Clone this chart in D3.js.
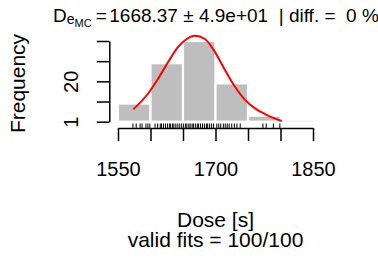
<!DOCTYPE html>
<html lang="en">
<head>
  <meta charset="UTF-8">
  <title>MC dose histogram</title>
  <style>
    body { margin: 0; background: #fff; }
    svg { display: block; font-family: "Liberation Sans", Arial, Helvetica, sans-serif; }
    .title { white-space: pre; }
  </style>
</head>
<body>
  <div class="warp"></div>
  <script src="https://cdn.jsdelivr.net/npm/d3@7"></script>
  <script>
    // histogram bins (lower edges) and counts
    var binStarts = [1550, 1600, 1650, 1700, 1750, 1800];
    var binWidth = 50;
    var counts = [9, 29, 40, 19, 3, 0];

    // rug of the MC doses (estimated positions)
    var rugDoses = [1573, 1578, 1584, 1587, 1593, 1596, 1599,
      1607, 1611, 1615, 1617, 1620, 1623, 1626, 1629, 1631, 1634, 1636, 1639, 1642, 1645, 1648,
      1651, 1654, 1656, 1659, 1661, 1664, 1666, 1669, 1672, 1674, 1677, 1680, 1683, 1686, 1688, 1691, 1694, 1697,
      1702, 1705, 1708, 1712, 1715, 1718, 1721, 1725, 1729, 1733, 1738,
      1773, 1778, 1789, 1799];

    // red fitted curve
    var curveDose = [1573.5, 1596.6, 1612, 1627.4, 1642.8, 1655.7, 1668.5, 1683.8, 1699.2, 1714.6, 1730, 1745.4, 1760.8, 1776.2, 1801.8];
    var curveFreq = [6.1, 14.1, 21.5, 29.7, 37.2, 41.0, 42.6, 41.0, 34.5, 25.6, 17.3, 10.8, 6.6, 3.8, 0.35];

    var xTicks = [1550, 1600, 1650, 1700, 1750, 1800, 1850];
    var xTickLabels = ['1550', '', '', '1700', '', '', '1850'];
    var yTicks = [0, 10, 20, 30, 40];
    var yTickLabels = ['1', '', '20', '', ''];

    var W = 378, H = 261;
    var svg = d3.select('.warp').append('svg').attr('width', W).attr('height', H);

    var x = d3.scaleLinear().domain([1550, 1850]).range([118, 313]);
    var y = d3.scaleLinear().domain([0, 40]).range([121.7, 41]);

    // bars
    svg.selectAll('rect.bar')
      .data(counts)
      .enter()
      .append('rect')
      .attr('class', 'bar')
      .attr('x', function(d, i) { return x(binStarts[i]); })
      .attr('width', function(d, i) { return x(binStarts[i] + binWidth) - x(binStarts[i]); })
      .attr('y', function(d) { return d > 0 ? y(d) : y(0) - 1; })
      .attr('height', function(d) { return d > 0 ? y(0) - y(d) : 1; })
      .attr('fill', '#bebebe')
      .attr('fill-opacity', function(d) { return d > 0 ? 1 : 0.3; })
      .attr('stroke', function(d) { return d > 0 ? '#fff' : 'none'; })
      .attr('stroke-width', 2.2);

    // rug
    var axisY = 128;
    svg.selectAll('line.rug')
      .data(rugDoses)
      .enter()
      .append('line')
      .attr('class', 'rug')
      .attr('x1', function(d) { return x(d); })
      .attr('x2', function(d) { return x(d); })
      .attr('y1', axisY)
      .attr('y2', axisY - 4.5)
      .attr('stroke', '#000')
      .attr('stroke-width', 1);

    // curve
    var line = d3.line()
      .x(function(d, i) { return x(curveDose[i]); })
      .y(function(d) { return y(d); })
      .curve(d3.curveMonotoneX);
    svg.append('path')
      .datum(curveFreq)
      .attr('d', line)
      .attr('fill', 'none')
      .attr('stroke', '#ff0000')
      .attr('stroke-width', 2);

    // x axis
    var gx = svg.append('g')
      .attr('transform', 'translate(0,' + axisY + ')')
      .call(d3.axisBottom(x).tickValues(xTicks).tickSize(13).tickSizeOuter(0).tickPadding(21)
        .tickFormat(function(d, i) { return xTickLabels[i]; }));
    gx.selectAll('path, line').attr('stroke', '#000').attr('stroke-width', 1.5);
    gx.selectAll('text').attr('font-size', 20).attr('font-family', null).attr('fill', '#000');

    // y axis
    var gy = svg.append('g')
      .attr('transform', 'translate(109.3,0)')
      .call(d3.axisLeft(y).tickValues(yTicks).tickSize(12.5).tickSizeOuter(0)
        .tickFormat(function(d, i) { return yTickLabels[i]; }));
    gy.selectAll('path, line').attr('stroke', '#000').attr('stroke-width', 1.5);
    gy.selectAll('text')
      .attr('font-size', 20).attr('font-family', null).attr('fill', '#000')
      .attr('x', null).attr('dy', null)
      .attr('text-anchor', 'middle')
      .attr('transform', 'translate(-31,0) rotate(-90)');

    // titles
    var t = svg.append('text').attr('class', 'title').attr('x', 53).attr('y', 22).attr('font-size', 19);
    t.append('tspan').text('D');
    t.append('tspan').attr('font-size', 14).attr('dy', 2).text('e');
    t.append('tspan').attr('font-size', 11).attr('dy', 3).text('MC');
    t.append('tspan').attr('font-size', 19).attr('dy', -5).attr('dx', 4).text('=');
    t.append('tspan').attr('dx', 2.5).text('1668.37 \u00b1 4.9e+01  | diff. =  0 %');

    svg.append('text')
      .attr('transform', 'translate(25,83.5) rotate(-90)')
      .attr('text-anchor', 'middle')
      .attr('font-size', 21)
      .text('Frequency');

    svg.append('text')
      .attr('x', 215.5).attr('y', 226.7)
      .attr('text-anchor', 'middle')
      .attr('font-size', 21)
      .text('Dose [s]');

    svg.append('text')
      .attr('x', 215.5).attr('y', 247)
      .attr('text-anchor', 'middle')
      .attr('font-size', 21)
      .text('valid fits = 100/100');
  </script>
</body>
</html>
